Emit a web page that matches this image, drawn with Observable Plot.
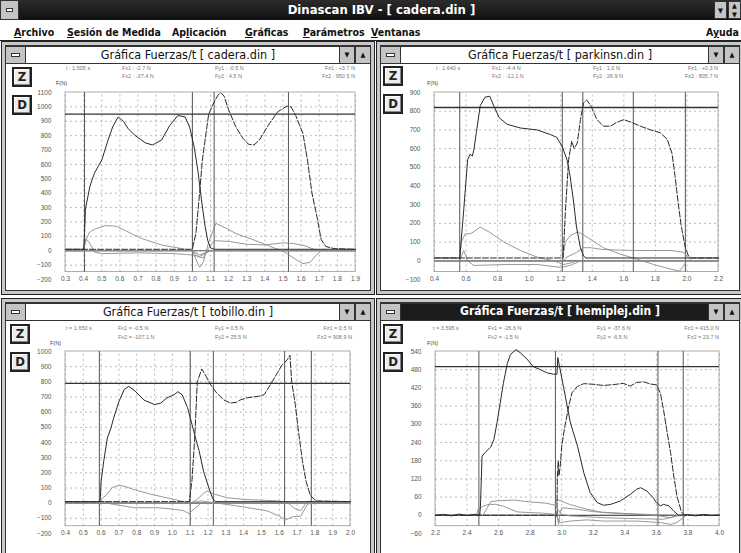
<!DOCTYPE html>
<html><head><meta charset="utf-8">
<script src="https://cdn.jsdelivr.net/npm/d3@7"></script>
<script src="https://cdn.jsdelivr.net/npm/@observablehq/plot@0.6"></script>
<style>
html,body{margin:0;padding:0;}
body{width:741px;height:553px;overflow:hidden;position:relative;background:#fff;font-family:"DejaVu Sans Condensed","DejaVu Sans",sans-serif;}
#titlebar{position:absolute;left:0;top:0;width:741px;height:20px;background:linear-gradient(#2c2c2c,#101010);}
#titlebar .t{position:absolute;left:0;width:741px;top:2px;text-align:center;color:#fff;font-weight:bold;font-size:13px;padding-left:22px;box-sizing:border-box}
.sys{position:absolute;background:#c4c4c4;border:1px solid #333;box-sizing:border-box}
.sys i{position:absolute;left:28%;right:28%;top:40%;height:2px;background:#fff;border:1px solid #333}
.btn{position:absolute;background:#c4c4c4;border:1px solid #333;box-sizing:border-box;font-size:7px;text-align:center;color:#111;}
#menubar{position:absolute;left:0;top:20px;width:741px;height:21px;background:#fff;border-bottom:1px solid #222;box-sizing:border-box}
.menu{position:absolute;top:26px;font-size:10.5px;font-weight:bold;color:#111;white-space:nowrap}
.panel{position:absolute;background:#fff;border:1px solid #222;box-sizing:border-box;box-shadow:inset 0 0 0 3px #c8c8c8, inset 0 0 0 4px #333;}
.tbar{position:absolute;height:18px;box-sizing:border-box;border:1px solid #333;background:#fff;}
.tbar .tt{position:absolute;left:0;right:0;top:0px;text-align:center;font-size:12.5px;color:#111;white-space:nowrap}
.tbar.active{background:#1c1c1c}
.tbar.active .tt{color:#fff;font-weight:bold;font-size:12px}
.zd{position:absolute;width:20px;height:20px;box-sizing:border-box;border:2px solid #222;background:#ececec;font-weight:bold;font-size:13px;text-align:center;line-height:16px;color:#222;box-shadow:inset -1px -1px 0 #888, inset 1px 1px 0 #fff}
.hd{position:absolute;font-family:"Liberation Sans",Arial,sans-serif;font-size:5.5px;color:#777;white-space:nowrap;line-height:6px}
.chart{position:absolute}
</style>
</head>
<body>
<div id="titlebar"><div class="t">Dinascan IBV - [ cadera.din ]</div></div>
<div class="sys" style="left:0;top:0;width:19px;height:20px"><i></i></div>
<div class="btn" style="left:714px;top:1px;width:13px;height:18px;line-height:18px">▼</div>
<div class="btn" style="left:728px;top:1px;width:13px;height:18px;line-height:9px">▲<br>▼</div>
<div id="menubar"></div>
<div class="menu" style="left:14px"><u>A</u>rchivo</div>
<div class="menu" style="left:67px"><u>S</u>esión de Medida</div>
<div class="menu" style="left:172px">Ap<u>l</u>icación</div>
<div class="menu" style="left:245px"><u>G</u>ráficas</div>
<div class="menu" style="left:303px"><u>P</u>arámetros</div>
<div class="menu" style="left:371px"><u>V</u>entanas</div>
<div class="menu" style="left:706px">A<u>y</u>uda</div>

<script>
// ---------- cadera.din (top-left) ----------
const caderaXTicks = [0.3,0.4,0.5,0.6,0.7,0.8,0.9,1.0,1.1,1.2,1.3,1.4,1.5,1.6,1.7,1.8,1.9];
const caderaYTicks = [-200,-100,0,100,200,300,400,500,600,700,800,900,1000,1100];
const caderaFz1 = [[0.3,10],[0.4,10],[0.405,120],[0.41,290],[0.435,450],[0.46,540],[0.5,630],[0.535,770],[0.56,860],[0.59,930],[0.62,900],[0.645,850],[0.68,805],[0.74,750],[0.78,735],[0.83,770],[0.875,870],[0.92,940],[0.96,930],[0.985,860],[1.01,720],[1.03,560],[1.05,355],[1.07,170],[1.085,70],[1.1,20],[1.12,10],[1.9,10]];
const caderaFz2 = [[0.3,10],[1.0,10],[1.02,126],[1.04,400],[1.055,630],[1.08,860],[1.09,950],[1.115,1020],[1.14,1080],[1.157,1098],[1.175,1075],[1.2,980],[1.24,860],[1.28,780],[1.31,740],[1.34,735],[1.37,770],[1.42,875],[1.47,965],[1.52,1005],[1.545,1000],[1.57,940],[1.61,815],[1.635,630],[1.66,400],[1.69,220],[1.71,80],[1.735,30],[1.78,15],[1.9,10]];
const caderaFx1 = [[0.3,0],[0.4,0],[0.41,80],[0.43,60],[0.46,-10],[0.5,-20],[0.7,-15],[0.9,-20],[1.0,-30],[1.04,-40],[1.07,-20],[1.1,0],[1.9,0]];
const caderaFy1 = [[0.3,0],[0.4,0],[0.41,60],[0.43,125],[0.46,150],[0.52,175],[0.58,170],[0.63,140],[0.72,85],[0.83,40],[0.94,15],[1.0,0],[1.04,-30],[1.08,-10],[1.1,0],[1.9,0]];
const caderaFx2 = [[0.3,0],[1.0,0],[1.03,-40],[1.06,-50],[1.09,20],[1.12,70],[1.2,65],[1.3,45],[1.4,40],[1.5,55],[1.56,50],[1.62,35],[1.67,10],[1.72,0],[1.9,0]];
const caderaFy2 = [[0.3,0],[1.0,0],[1.02,-60],[1.04,-115],[1.06,-80],[1.09,60],[1.13,190],[1.18,160],[1.24,120],[1.35,70],[1.42,35],[1.51,-10],[1.57,-60],[1.61,-90],[1.65,-80],[1.68,-35],[1.72,10],[1.75,0],[1.9,0]];
const caderaCursors = [0.405,1.0,1.12,1.53];
const caderaWeight = [950];
const caderaHeader = ["t : 1.505 s","Fx1 : -2.7 N","Fx2 : -37.4 N","Fy1 : -0.5 N","Fy2 : 4.5 N","Fz1 : +3.7 N","Fz2 : 950.5 N"];

// ---------- parkinsn.din (top-right) ----------
const parkinsnXTicks = [0.4,0.6,0.8,1.0,1.2,1.4,1.6,1.8,2.0,2.2];
const parkinsnYTicks = [-100,0,100,200,300,400,500,600,700,800,900];
const parkinsnFz1 = [[0.4,15],[0.56,15],[0.585,270],[0.61,540],[0.625,570],[0.64,560],[0.65,595],[0.665,685],[0.69,830],[0.72,875],[0.75,880],[0.775,830],[0.81,765],[0.86,730],[0.945,710],[1.05,700],[1.135,675],[1.175,660],[1.21,610],[1.24,540],[1.26,450],[1.28,325],[1.3,180],[1.325,70],[1.345,25],[1.36,15],[2.2,15]];
const parkinsnFz2 = [[0.4,15],[1.215,15],[1.23,270],[1.25,540],[1.27,640],[1.285,600],[1.305,630],[1.325,755],[1.345,845],[1.365,860],[1.39,830],[1.43,755],[1.47,720],[1.515,720],[1.555,740],[1.6,755],[1.65,740],[1.705,720],[1.77,700],[1.83,685],[1.875,650],[1.905,575],[1.925,450],[1.945,305],[1.965,180],[1.99,70],[2.01,25],[2.03,15],[2.2,15]];
const parkinsnFx1 = [[0.4,0],[0.56,0],[0.585,55],[0.61,0],[0.65,-25],[0.84,-20],[1.05,-20],[1.2,-35],[1.26,-25],[1.325,0],[2.2,0]];
const parkinsnFy1 = [[0.4,0],[0.56,0],[0.57,100],[0.595,145],[0.63,145],[0.69,180],[0.755,150],[0.84,100],[0.945,55],[1.05,20],[1.155,0],[1.22,-20],[1.27,-10],[1.3,0],[2.2,0]];
const parkinsnFx2 = [[0.4,0],[1.21,0],[1.24,20],[1.3,45],[1.345,70],[1.39,70],[1.47,60],[1.68,55],[1.9,55],[1.98,45],[2.01,15],[2.03,0],[2.2,0]];
const parkinsnFy2 = [[0.4,0],[1.21,0],[1.23,100],[1.26,135],[1.31,155],[1.37,125],[1.47,70],[1.58,35],[1.68,10],[1.79,-20],[1.9,-45],[1.955,-55],[2.0,0],[2.2,0]];
const parkinsnCursors = [0.56,1.21,1.34,1.66,1.99];
const parkinsnWeight = [820];
const parkinsnHeader = ["t : 1.640 s","Fx1 : -4.4 N","Fx2 : -12.1 N","Fy1 : 1.0 N","Fy2 : 26.9 N","Fz1 : +0.3 N","Fz2 : 805.7 N"];

// ---------- tobillo.din (bottom-left) ----------
const tobilloXTicks = [0.4,0.5,0.6,0.7,0.8,0.9,1.0,1.1,1.2,1.3,1.4,1.5,1.6,1.7,1.8,1.9,2.0];
const tobilloYTicks = [-200,-100,0,100,200,300,400,500,600,700,800,900,1000];
const tobilloFz1 = [[0.4,10],[0.59,10],[0.595,25],[0.6,145],[0.615,280],[0.635,430],[0.655,495],[0.67,560],[0.7,670],[0.73,750],[0.755,770],[0.79,740],[0.84,680],[0.9,650],[0.935,660],[0.97,695],[1.01,715],[1.03,735],[1.055,715],[1.085,630],[1.11,520],[1.13,430],[1.15,345],[1.175,210],[1.205,100],[1.225,35],[1.24,10],[2.0,10]];
const tobilloFz2 = [[0.4,10],[1.095,10],[1.11,150],[1.125,420],[1.14,800],[1.165,885],[1.19,835],[1.215,780],[1.25,725],[1.29,680],[1.325,660],[1.36,665],[1.38,680],[1.42,695],[1.485,705],[1.515,715],[1.55,780],[1.59,860],[1.615,910],[1.645,945],[1.66,975],[1.67,800],[1.69,650],[1.71,455],[1.73,280],[1.75,145],[1.775,50],[1.805,15],[2.0,10]];
const tobilloFx1 = [[0.4,0],[0.59,0],[0.6,15],[0.655,-5],[0.785,-30],[0.915,-30],[1.01,-40],[1.065,-50],[1.095,-70],[1.11,-50],[1.16,0],[2.0,0]];
const tobilloFy1 = [[0.4,0],[0.59,0],[0.6,25],[0.635,60],[0.66,100],[0.69,115],[0.72,115],[0.785,90],[0.875,60],[0.97,35],[1.045,15],[1.09,5],[1.2,0],[2.0,0]];
const tobilloFx2 = [[0.4,0],[1.1,0],[1.14,25],[1.17,60],[1.195,80],[1.235,60],[1.31,35],[1.4,25],[1.495,20],[1.59,15],[1.645,5],[1.68,-30],[1.72,-50],[1.76,15],[1.8,0],[2.0,0]];
const tobilloFy2 = [[0.4,0],[1.1,0],[1.16,15],[1.345,-15],[1.53,-50],[1.6,-85],[1.635,-110],[1.675,-90],[1.72,-85],[1.76,-5],[1.8,0],[2.0,0]];
const tobilloCursors = [0.59,1.1,1.23,1.63,1.78];
const tobilloWeight = [790];
const tobilloHeader = ["t = 1.650 s","Fx1 = -0.5 N","Fx2 = -107.1 N","Fy1 = 0.5 N","Fy2 = 25.5 N","Fz1 = 0.5 N","Fz2 = 908.9 N"];

// ---------- hemiplej.din (bottom-right) ----------
const hemiplejXTicks = [2.2,2.4,2.6,2.8,3.0,3.2,3.4,3.6,3.8,4.0];
const hemiplejYTicks = [-60,0,60,120,180,240,300,360,420,480,540];
const hemiplejFz1 = [[2.2,0],[2.25,3],[2.3,-2],[2.35,4],[2.4,-1],[2.45,3],[2.48,0],[2.485,30],[2.495,195],[2.52,210],[2.55,225],[2.57,250],[2.59,305],[2.61,370],[2.63,435],[2.655,500],[2.675,530],[2.71,546],[2.74,535],[2.78,515],[2.82,490],[2.865,480],[2.905,470],[2.95,465],[2.97,465],[2.975,520],[2.99,480],[3.02,400],[3.055,305],[3.1,228],[3.14,140],[3.18,75],[3.225,42],[3.265,33],[3.31,36],[3.37,47],[3.435,69],[3.475,86],[3.5,91],[3.54,80],[3.58,58],[3.6,42],[3.625,31],[3.645,36],[3.68,31],[3.71,14],[3.74,0],[3.8,2],[3.85,-2],[3.9,3],[3.95,-1],[4.0,1]];
const hemiplejFz2 = [[2.2,0],[2.97,0],[2.972,120],[2.978,180],[2.982,130],[2.99,160],[3.0,228],[3.02,294],[3.045,360],[3.065,404],[3.1,425],[3.14,434],[3.2,432],[3.265,428],[3.33,431],[3.39,435],[3.435,426],[3.475,438],[3.52,440],[3.56,433],[3.6,430],[3.625,404],[3.645,349],[3.665,283],[3.69,206],[3.71,130],[3.73,64],[3.76,9],[3.78,0],[4.0,0]];
const hemiplejFx1 = [[2.2,0],[2.5,0],[2.55,45],[2.6,48],[2.7,50],[2.8,44],[2.9,40],[2.96,33],[2.97,52],[3.05,36],[3.16,20],[3.26,9],[3.48,3],[3.62,-2],[3.69,-8],[3.74,0],[4.0,0]];
const hemiplejFy1 = [[2.2,0],[2.46,0],[2.47,20],[2.5,30],[2.54,36],[2.58,36],[2.63,30],[2.675,20],[2.72,11],[2.8,9],[2.885,7],[2.96,3],[2.99,-24],[3.055,-19],[3.16,-15],[3.265,-19],[3.475,-19],[3.625,-24],[3.69,-30],[3.73,-24],[3.77,-8],[3.79,0],[4.0,0]];
const hemiplejFx2 = [[2.2,0],[2.97,0],[2.975,20],[3.0,3],[3.055,-2],[3.265,-8],[3.475,-11],[3.645,-13],[3.73,-2],[3.78,0],[4.0,0]];
const hemiplejFy2 = [[2.2,0],[2.97,0],[2.98,-30],[2.99,10],[3.0,25],[3.1,20],[3.2,12],[3.4,6],[3.6,2],[3.76,0],[4.0,0]];
const hemiplejCursors = [2.475,2.96,3.61,3.77];
const hemiplejWeight = [490];
const hemiplejHeader = ["t = 3.595 s","Fx1 = -26.6 N","Fx2 = -1.5 N","Fy1 = -37.6 N","Fy2 = -6.5 N","Fz1 = 415.0 N","Fz2 = 23.7 N"];

// ---------- chrome helpers ----------
function el(cls, style, html) {
  const d = document.createElement("div");
  d.className = cls; d.setAttribute("style", style); if (html != null) d.innerHTML = html;
  document.body.appendChild(d); return d;
}
function panel(p) {
  el("panel", `left:${p.left}px;top:${p.top}px;width:${p.w}px;height:${p.h}px`);
  const tb = el("tbar" + (p.active ? " active" : ""), `left:${p.left+4}px;top:${p.top+5}px;width:${p.w-8}px`);
  tb.innerHTML = `<div class="tt">${p.title}</div>`;
  el("sys", `left:${p.left+4}px;top:${p.top+5}px;width:21px;height:18px`, "<i></i>");
  el("btn", `left:${p.left+p.w-36}px;top:${p.top+5}px;width:16px;height:18px;line-height:17px`, "▼");
  el("btn", `left:${p.left+p.w-20}px;top:${p.top+5}px;width:16px;height:18px;line-height:17px`, "▲");
  el("zd", `left:${p.zx}px;top:${p.zy}px`, "Z");
  el("zd", `left:${p.zx}px;top:${p.zy+28}px`, "D");
  const [t, fx1, fx2, fy1, fy2, fz1, fz2] = p.header;
  el("hd", `left:${p.tx}px;top:${p.r1-3}px`, t);
  el("hd", `left:${p.fx}px;top:${p.r1-3}px`, fx1);
  el("hd", `left:${p.fx}px;top:${p.r2-3}px`, fx2);
  el("hd", `left:${p.fy}px;top:${p.r1-3}px`, fy1);
  el("hd", `left:${p.fy}px;top:${p.r2-3}px`, fy2);
  el("hd", `right:${741-p.fzr}px;top:${p.r1-3}px;text-align:right`, fz1);
  el("hd", `right:${741-p.fzr}px;top:${p.r2-3}px;text-align:right`, fz2);
  el("hd", `left:${p.fnx}px;top:${p.fny-3}px;color:#444`, "F(N)");
}

const fmtX = d3.format(".1f");
const fmtY = d3.format("d");
const xy = {x: d => d[0], y: d => d[1]};
function chart(o) {
  const [y0, y1] = o.yDomain;
  const [x0, x1] = o.xDomain;
  const fb = y0 + 0.04 * (y1 - y0);
  const plot = Plot.plot({
    width: o.width, height: o.height,
    marginLeft: o.ml, marginRight: o.mr, marginTop: o.mt, marginBottom: o.mb,
    x: {domain: o.xDomain},
    y: {domain: o.yDomain},
    style: {background: "transparent", overflow: "visible", fontFamily: "Liberation Sans, Arial, sans-serif", fontSize: "6.5px", color: "#555"},
    marks: [
      Plot.ruleX(o.xTicks, {y1: fb, y2: y1, stroke: "#aaa", strokeWidth: 0.8, strokeDasharray: "2,3"}),
      Plot.ruleY(o.yTicks.filter(v => v > fb && v < y1), {x1: x0, x2: x1, stroke: "#aaa", strokeWidth: 0.8, strokeDasharray: "2,3"}),
      Plot.rect([null], {x1: x0, x2: x1, y1: fb, y2: y1, fill: "none", stroke: "#999", strokeWidth: 0.8}),
      Plot.ruleX(o.cursors, {y1: fb, y2: y1, stroke: "#555", strokeWidth: 1}),
      Plot.ruleY([0], {x1: x0, x2: x1, stroke: "#555", strokeWidth: 1.2}),
      Plot.ruleY(o.weight, {x1: x0, x2: x1, stroke: "#333", strokeWidth: 1.4}),
      ...o.grays.map(g => Plot.line(g, {...xy, stroke: "#8c8c8c", strokeWidth: 0.9})),
      Plot.line(o.fz1, {...xy, stroke: "#2a2a2a", strokeWidth: 1}),
      Plot.line(o.fz2, {...xy, stroke: "#2a2a2a", strokeWidth: 1, strokeDasharray: "6,2"}),
      Plot.axisY(o.yTicks, {anchor: "left", tickSize: 0, tickPadding: 14, tickFormat: fmtY, label: null, fill: "#555"}),
      Plot.axisX(o.xTicks, {anchor: "bottom", tickSize: 0, tickPadding: -3, tickFormat: fmtX, label: null, fill: "#555"})
    ]
  });
  const wrap = el("chart", `left:${o.left}px;top:${o.top}px`);
  wrap.appendChild(plot);
}

// ---------- panels ----------
panel({left:1, top:41, w:374, h:254, title:"Gráfica Fuerzas/t [ cadera.din ]", zx:12, zy:67,
  header:caderaHeader, tx:66, fx:122, fy:215, fzr:355, r1:68, r2:76, fnx:56, fny:83});
panel({left:376, top:41, w:368, h:254, title:"Gráfica Fuerzas/t [ parkinsn.din ]", zx:383, zy:66,
  header:parkinsnHeader, tx:436, fx:492, fy:593, fzr:718, r1:68, r2:76, fnx:427, fny:83});
panel({left:1, top:298, w:374, h:260, title:"Gráfica Fuerzas/t [ tobillo.din ]", zx:10, zy:324,
  header:tobilloHeader, tx:66, fx:118, fy:215, fzr:352, r1:328, r2:337, fnx:50, fny:343});
panel({left:376, top:298, w:368, h:260, title:"Gráfica Fuerzas/t [ hemiplej.din ]", active:true, zx:383, zy:324,
  header:hemiplejHeader, tx:433, fx:488, fy:597, fzr:719, r1:328, r2:337, fnx:427, fny:343});

// ---------- charts ----------
chart({left:0, top:80, width:373, height:211, ml:65, mr:18, mt:12, mb:12,
  xDomain:[0.3,1.9], yDomain:[-200,1100], xTicks:caderaXTicks, yTicks:caderaYTicks,
  fz1:caderaFz1, fz2:caderaFz2, grays:[caderaFx1, caderaFy1, caderaFx2, caderaFy2],
  cursors:caderaCursors, weight:caderaWeight});
chart({left:377, top:80, width:364, height:211, ml:57, mr:23, mt:12, mb:12,
  xDomain:[0.4,2.2], yDomain:[-100,900], xTicks:parkinsnXTicks, yTicks:parkinsnYTicks,
  fz1:parkinsnFz1, fz2:parkinsnFz2, grays:[parkinsnFx1, parkinsnFy1, parkinsnFx2, parkinsnFy2],
  cursors:parkinsnCursors, weight:parkinsnWeight});
chart({left:0, top:340, width:373, height:205, ml:65, mr:23, mt:11, mb:12,
  xDomain:[0.4,2.0], yDomain:[-200,1000], xTicks:tobilloXTicks, yTicks:tobilloYTicks,
  fz1:tobilloFz1, fz2:tobilloFz2, grays:[tobilloFx1, tobilloFy1, tobilloFx2, tobilloFy2],
  cursors:tobilloCursors, weight:tobilloWeight});
chart({left:377, top:340, width:364, height:205, ml:58, mr:22, mt:11, mb:12,
  xDomain:[2.2,4.0], yDomain:[-60,540], xTicks:hemiplejXTicks, yTicks:hemiplejYTicks,
  fz1:hemiplejFz1, fz2:hemiplejFz2, grays:[hemiplejFx1, hemiplejFy1, hemiplejFx2, hemiplejFy2],
  cursors:hemiplejCursors, weight:hemiplejWeight});
</script>
</body></html>
